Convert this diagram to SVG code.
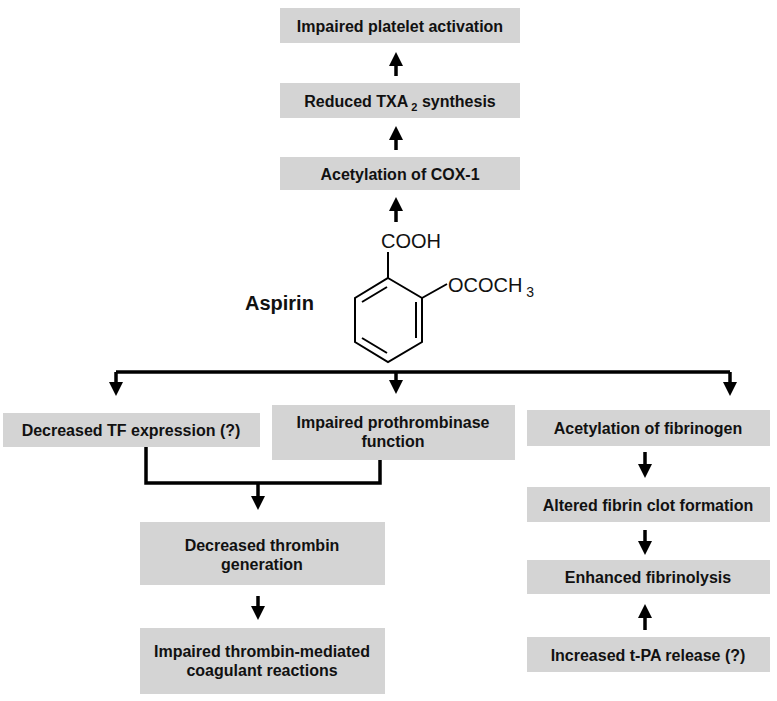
<svg xmlns="http://www.w3.org/2000/svg" width="777" height="701" viewBox="0 0 777 701">
<style>
.b{fill:#d4d4d4}
.t{font-family:"Liberation Sans",Arial,sans-serif;font-weight:bold;font-size:16px;fill:#111;text-anchor:middle}
.c{font-family:"Liberation Sans",Arial,sans-serif;font-size:20px;fill:#111}
.l{stroke:#000;stroke-width:3.5;fill:none}
.m{stroke:#000;stroke-width:2;fill:none}
</style>
<defs><marker id="a" markerWidth="14" markerHeight="14" refX="0" refY="7" orient="auto" markerUnits="userSpaceOnUse"><path d="M0,0 L14,7 L0,14 z" fill="#000"/></marker></defs>
<rect width="777" height="701" fill="#fff"/>
<g id="n1"><rect class="b" x="280" y="8" width="240" height="35"/><text class="t" x="400" y="32">Impaired platelet activation</text></g>
<g id="n2"><rect class="b" x="280" y="83" width="240" height="35"/><text class="t" x="400" y="107">Reduced TXA<tspan font-size="11" dy="4"> 2</tspan><tspan dy="-4"> synthesis</tspan></text></g>
<g id="n3"><rect class="b" x="280" y="157" width="240" height="33"/><text class="t" x="400" y="180">Acetylation of COX-1</text></g>
<g id="aspirin">
<text class="c" x="245" y="310" font-weight="bold" font-size="21">Aspirin</text>
<polygon class="m" points="388,278 422,298 422,342 388,362 355,342 355,298"/>
<path class="m" d="M362,302 L387,287 M416,302 L416,338 M362,338 L387,353"/>
<path class="m" d="M388,278 L388,252 M422,298 L447,284"/>
<text class="c" x="381" y="248">COOH</text>
<text class="c" x="448" y="292">OCOCH<tspan font-size="14" dy="5"> 3</tspan></text>
</g>
<g id="n4"><rect class="b" x="3" y="413" width="257" height="34"/><text class="t" x="131" y="436">Decreased TF expression (?)</text></g>
<g id="n5"><rect class="b" x="272" y="405" width="243" height="55"/><text class="t" x="393" y="428">Impaired prothrombinase</text><text class="t" x="393" y="447">function</text></g>
<g id="n6"><rect class="b" x="527" y="410" width="243" height="36"/><text class="t" x="648" y="434">Acetylation of fibrinogen</text></g>
<g id="n7"><rect class="b" x="140" y="522" width="245" height="63"/><text class="t" x="262" y="551">Decreased thrombin</text><text class="t" x="262" y="570">generation</text></g>
<g id="n8"><rect class="b" x="140" y="628" width="245" height="66"/><text class="t" x="262" y="657">Impaired thrombin-mediated</text><text class="t" x="262" y="676">coagulant reactions</text></g>
<g id="n9"><rect class="b" x="527" y="487" width="243" height="35"/><text class="t" x="648" y="511">Altered fibrin clot formation</text></g>
<g id="n10"><rect class="b" x="527" y="560" width="243" height="34"/><text class="t" x="648" y="583">Enhanced fibrinolysis</text></g>
<g id="n11"><rect class="b" x="527" y="637" width="243" height="35"/><text class="t" x="648" y="661">Increased t-PA release (?)</text></g>
<g id="connectors">
<path class="l" d="M396,76 L396,66" marker-end="url(#a)"/>
<path class="l" d="M396,150 L396,140" marker-end="url(#a)"/>
<path class="l" d="M396,222 L396,211" marker-end="url(#a)"/>
<path class="l" d="M116,372 L730,372"/>
<path class="l" d="M116,372 L116,382" marker-end="url(#a)"/>
<path class="l" d="M396,372 L396,380" marker-end="url(#a)"/>
<path class="l" d="M730,372 L730,382" marker-end="url(#a)"/>
<path class="l" d="M146,447 L146,483 L380,483 L380,460"/>
<path class="l" d="M258,483 L258,496" marker-end="url(#a)"/>
<path class="l" d="M258,596 L258,606" marker-end="url(#a)"/>
<path class="l" d="M645,452 L645,464" marker-end="url(#a)"/>
<path class="l" d="M645,530 L645,541" marker-end="url(#a)"/>
<path class="l" d="M645,630 L645,618" marker-end="url(#a)"/>
</g>
</svg>
